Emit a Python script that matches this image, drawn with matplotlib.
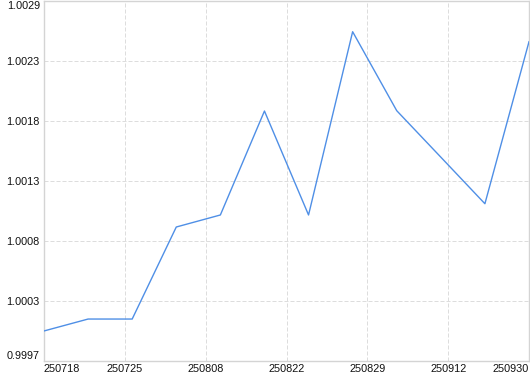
import matplotlib
matplotlib.use("Agg")
import matplotlib.pyplot as plt
import numpy as np

values = [0.999967, 1.000073, 1.000073, 1.000891, 1.000998, 1.001922,
          1.000998, 1.002627, 1.001925, 1.001512, 1.001098, 1.002538]
x_labels = ["250718", "250725", "250808", "250822", "250829", "250912", "250930"]
y_labels = ["0.9997", "1.0003", "1.0008", "1.0013", "1.0018", "1.0023", "1.0029"]
y_min, y_max = 0.9997, 1.0029

plt.rcParams["font.family"] = ["Liberation Sans", "DejaVu Sans"]

W, H = 530, 374
fig = plt.figure(figsize=(W / 100, H / 100), dpi=100)
ax = fig.add_axes([44 / W, 13 / H, (529 - 44) / W, (361 - 1) / H])

xs = np.arange(len(values))
ax.plot(xs, values, color="#4f8fe6", linewidth=1.0, zorder=3)

ax.set_xlim(0, len(values) - 1)
ax.set_ylim(y_min, y_max)

xt = np.linspace(0, len(values) - 1, len(x_labels))
yt = np.linspace(y_min, y_max, len(y_labels))
ax.set_xticks(xt)
ax.set_xticklabels(x_labels)
ax.set_yticks(yt)
ax.set_yticklabels(y_labels)

ax.grid(True, color="#dddddd", linestyle=(0, (4, 2)), linewidth=0.72, zorder=0)
for s in ax.spines.values():
    s.set_color("#d4d4d4")
    s.set_linewidth(1.0)

ax.tick_params(axis="both", length=0, labelsize=7.8, colors="#111111")
ax.tick_params(axis="x", pad=1.8)
ax.tick_params(axis="y", pad=3)

xl = ax.get_xticklabels()
xl[0].set_ha("left")
xl[-1].set_ha("right")
yl = ax.get_yticklabels()
yl[0].set_va("bottom")
yl[-1].set_va("top")

fig.savefig("out.png", dpi=100)
